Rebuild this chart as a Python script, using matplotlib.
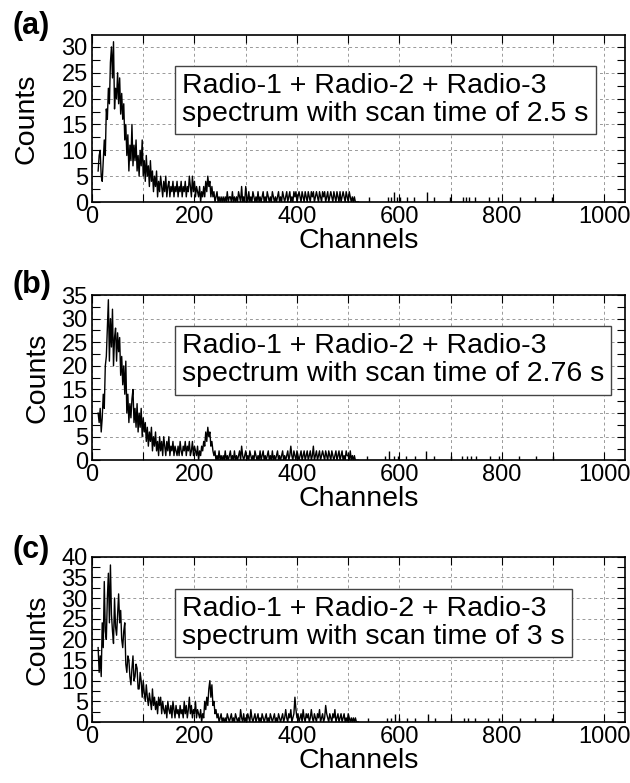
import numpy as np
import matplotlib.pyplot as plt
from matplotlib.ticker import MultipleLocator

plt.rcParams['font.family'] = ['Liberation Sans', 'DejaVu Sans']

# dense part of the spectra, one value every 2 channels from 12 to 520
channels = np.arange(12, 521, 2)

counts_a = [6, 9, 10, 5, 4, 8, 12, 9, 18, 16,
            22, 19, 27, 30, 24, 31, 18, 22, 20, 25,
            19, 24, 17, 21, 16, 19, 12, 15, 9, 13,
            6, 11, 8, 15, 7, 11, 8, 12, 6, 9,
            5, 10, 7, 12, 5, 8, 4, 9, 5, 7,
            3, 8, 4, 6, 2, 5, 3, 6, 1, 4,
            2, 5, 3, 1, 4, 2, 5, 1, 3, 4,
            1, 3, 2, 4, 1, 3, 2, 4, 1, 3,
            2, 4, 1, 3, 2, 4, 1, 3, 2, 5,
            3, 1, 5, 2, 4, 1, 3, 2, 1, 3,
            0, 2, 1, 3, 1, 4, 2, 5, 3, 4,
            1, 3, 1, 2, 0, 1, 2, 0, 1, 0,
            1, 0, 1, 0,
            1, 0, 2, 0, 1, 1, 0, 2, 0, 1, 0, 1, 0, 2, 1, 0, 3, 0, 1, 0,
            3, 1, 0, 2, 0, 1, 0, 2, 1, 0, 1, 0, 2, 0, 1, 0, 1, 2, 0, 1,
            0, 2, 1, 0, 1, 0, 2, 1, 0, 1, 0, 1, 2, 0, 1, 0, 2, 1, 0, 1,
            2, 0, 1, 2, 0, 1, 0, 2, 1, 2, 0, 1, 2, 1, 0, 2, 1, 0, 2, 1,
            0, 2, 1, 0, 2, 1, 2, 0, 1, 2, 1, 0, 2, 1, 0, 2, 1, 2, 0, 1,
            2, 0, 1, 2, 1, 0, 2, 1, 0, 2, 1, 0, 2, 0, 1, 2, 1, 0, 2, 1,
            0, 2, 1, 0, 1, 0, 1, 0, 0, 0, 0]

counts_b = [10, 8, 11, 6, 9, 14, 11, 20, 22, 28,
            34, 21, 30, 24, 32, 20, 26, 28, 21, 27,
            23, 26, 18, 22, 16, 20, 14, 21, 10, 14,
            8, 12, 9, 13, 15, 8, 11, 7, 12, 6,
            10, 7, 11, 5, 9, 6, 8, 4, 7, 3,
            6, 4, 7, 2, 5, 3, 6, 2, 4, 1,
            5, 2, 4, 1, 5, 3, 1, 4, 2, 5,
            1, 3, 2, 4, 1, 3, 2, 1, 3, 1,
            4, 2, 1, 3, 2, 4, 1, 3, 2, 4,
            1, 2, 4, 1, 3, 2, 1, 3, 0, 2,
            1, 3, 2, 4, 3, 6, 4, 7, 5, 6,
            3, 4, 2, 1, 2, 0, 1, 0, 2, 0,
            1, 0, 1, 0,
            2, 0, 1, 0, 1, 2, 0, 1, 0, 2, 0, 1, 0, 1, 2, 0, 3, 1, 0, 1,
            2, 0, 1, 0, 2, 1, 0, 1, 0, 2, 1, 0, 1, 0, 2, 0, 1, 2, 0, 1,
            0, 1, 2, 0, 1, 0, 2, 0, 1, 0, 1, 2, 0, 1, 0, 1, 2, 0, 1, 0,
            1, 2, 0, 1, 3, 1, 0, 2, 1, 0, 2, 1, 0, 1, 2, 0, 1, 2, 0, 1,
            2, 0, 1, 2, 0, 1, 3, 0, 1, 2, 0, 1, 2, 0, 1, 2, 1, 0, 2, 1,
            0, 2, 1, 0, 2, 1, 0, 1, 2, 0, 1, 2, 0, 1, 2, 0, 1, 0, 2, 1,
            1, 0, 2, 0, 1, 0, 1, 0, 0, 0, 0]

counts_c = [18, 12, 16, 11, 24, 18, 34, 22, 20, 30,
            36, 24, 38, 26, 22, 19, 30, 23, 21, 26,
            31, 24, 27, 20, 18, 22, 24, 14, 12, 16,
            15, 11, 9, 13, 16, 10, 11, 14, 13, 8,
            8, 12, 10, 6, 10, 7, 5, 9, 6, 4,
            7, 5, 3, 8, 4, 6, 3, 5, 2, 6,
            4, 6, 2, 5, 3, 2, 4, 1, 5, 3,
            2, 4, 1, 5, 3, 1, 4, 2, 3, 1,
            4, 2, 3, 1, 5, 2, 4, 1, 3, 6,
            2, 4, 1, 3, 2, 5, 1, 3, 2, 1,
            3, 0, 2, 1, 5, 3, 6, 4, 8, 10,
            6, 9, 4, 5, 2, 3, 1, 2, 0, 1,
            2, 0, 1, 0,
            1, 0, 2, 1, 0, 1, 2, 0, 1, 0, 2, 1, 0, 1, 0, 3, 1, 0, 2, 0,
            1, 0, 2, 1, 0, 3, 1, 0, 1, 2, 0, 1, 2, 0, 1, 0, 2, 1, 0, 1,
            2, 0, 1, 0, 2, 1, 0, 1, 2, 0, 1, 0, 2, 1, 0, 1, 2, 0, 1, 3,
            1, 0, 2, 1, 3, 0, 1, 2, 6, 3, 1, 2, 0, 1, 2, 0, 3, 1, 0, 2,
            1, 2, 0, 1, 3, 1, 0, 2, 1, 0, 2, 1, 3, 0, 1, 2, 0, 1, 4, 2,
            1, 0, 2, 1, 0, 2, 1, 3, 0, 1, 2, 0, 1, 2, 0, 1, 2, 0, 1, 0,
            2, 1, 0, 1, 0, 1, 0, 1, 0, 0, 0]

# isolated counts above channel 520
tail_ch_a = [541, 577, 583, 589, 595, 601, 614, 629, 653, 668,
             699, 724, 729, 736, 748, 774, 793, 835, 865, 897]
tail_n_a = [1, 1, 1, 2, 1, 1, 1, 1, 2, 1, 1, 1, 1, 1, 1, 1, 1, 1, 1, 1]
tail_ch_b = [536, 571, 580, 590, 598, 612, 630, 652, 667, 700,
             722, 731, 740, 750, 776, 795, 834, 866, 899]
tail_n_b = [1, 1, 2, 1, 1, 1, 1, 2, 1, 1, 1, 1, 1, 1, 1, 1, 1, 1, 1]
tail_ch_c = [538, 575, 584, 592, 600, 615, 631, 655, 670, 701,
             725, 733, 747, 773, 794, 836, 864, 898]
tail_n_c = [1, 1, 1, 2, 1, 1, 1, 2, 1, 1, 1, 1, 1, 1, 1, 1, 1, 1]

labels = ['(a)', '(b)', '(c)']
scan_times = ['2.5', '2.76', '3']
ylims = [32.3, 35, 40]

fig = plt.figure(figsize=(6.3, 7.83), dpi=100)
boxes = [(0.146, 0.742, 0.846, 0.2133),
         (0.146, 0.4121, 0.846, 0.2111),
         (0.146, 0.0779, 0.846, 0.2111)]
label_y = [0.967, 0.636, 0.2975]
text_y = [0.613, 0.604, 0.599]
ylabel_pad = [16, 8, 8]

data = [(counts_a, tail_ch_a, tail_n_a),
        (counts_b, tail_ch_b, tail_n_b),
        (counts_c, tail_ch_c, tail_n_c)]

for i, (cnt, tch, tn) in enumerate(data):
    ax = fig.add_axes(boxes[i])
    ax.plot(channels, cnt, color='black', lw=1.0)
    ax.vlines(tch, 0, tn, color='black', lw=1.0)
    ax.set_xlim(0, 1040)
    ax.set_ylim(0, ylims[i])

    ax.xaxis.set_major_locator(MultipleLocator(200))
    ax.xaxis.set_minor_locator(MultipleLocator(100))
    ax.yaxis.set_major_locator(MultipleLocator(5))
    ax.yaxis.set_minor_locator(MultipleLocator(2.5))
    ax.tick_params(which='both', direction='in', top=True, right=True,
                   length=6, width=0.8, labelsize=17, pad=3)
    ax.grid(which='major', color='#999999', ls=(0, (3, 3)), lw=0.7)
    ax.grid(which='minor', axis='x', color='#999999', ls=(0, (3, 3)), lw=0.7)
    for s in ax.spines.values():
        s.set_linewidth(1.2)

    ax.set_xlabel('Channels', fontsize=20.5, labelpad=0)
    ax.set_ylabel('Counts', fontsize=20.5, labelpad=ylabel_pad[i])

    ax.text(0.169, text_y[i],
            'Radio-1 + Radio-2 + Radio-3\nspectrum with scan time of %s s' % scan_times[i],
            transform=ax.transAxes, fontsize=20.5, ha='left', va='center',
            linespacing=1.1,
            bbox=dict(boxstyle='square,pad=0.25', fc='white', ec='#444444', lw=1))

    fig.text(0.02, label_y[i], labels[i], fontsize=22, fontweight='bold',
             ha='left', va='center')

fig.savefig('out.png', dpi=100)
